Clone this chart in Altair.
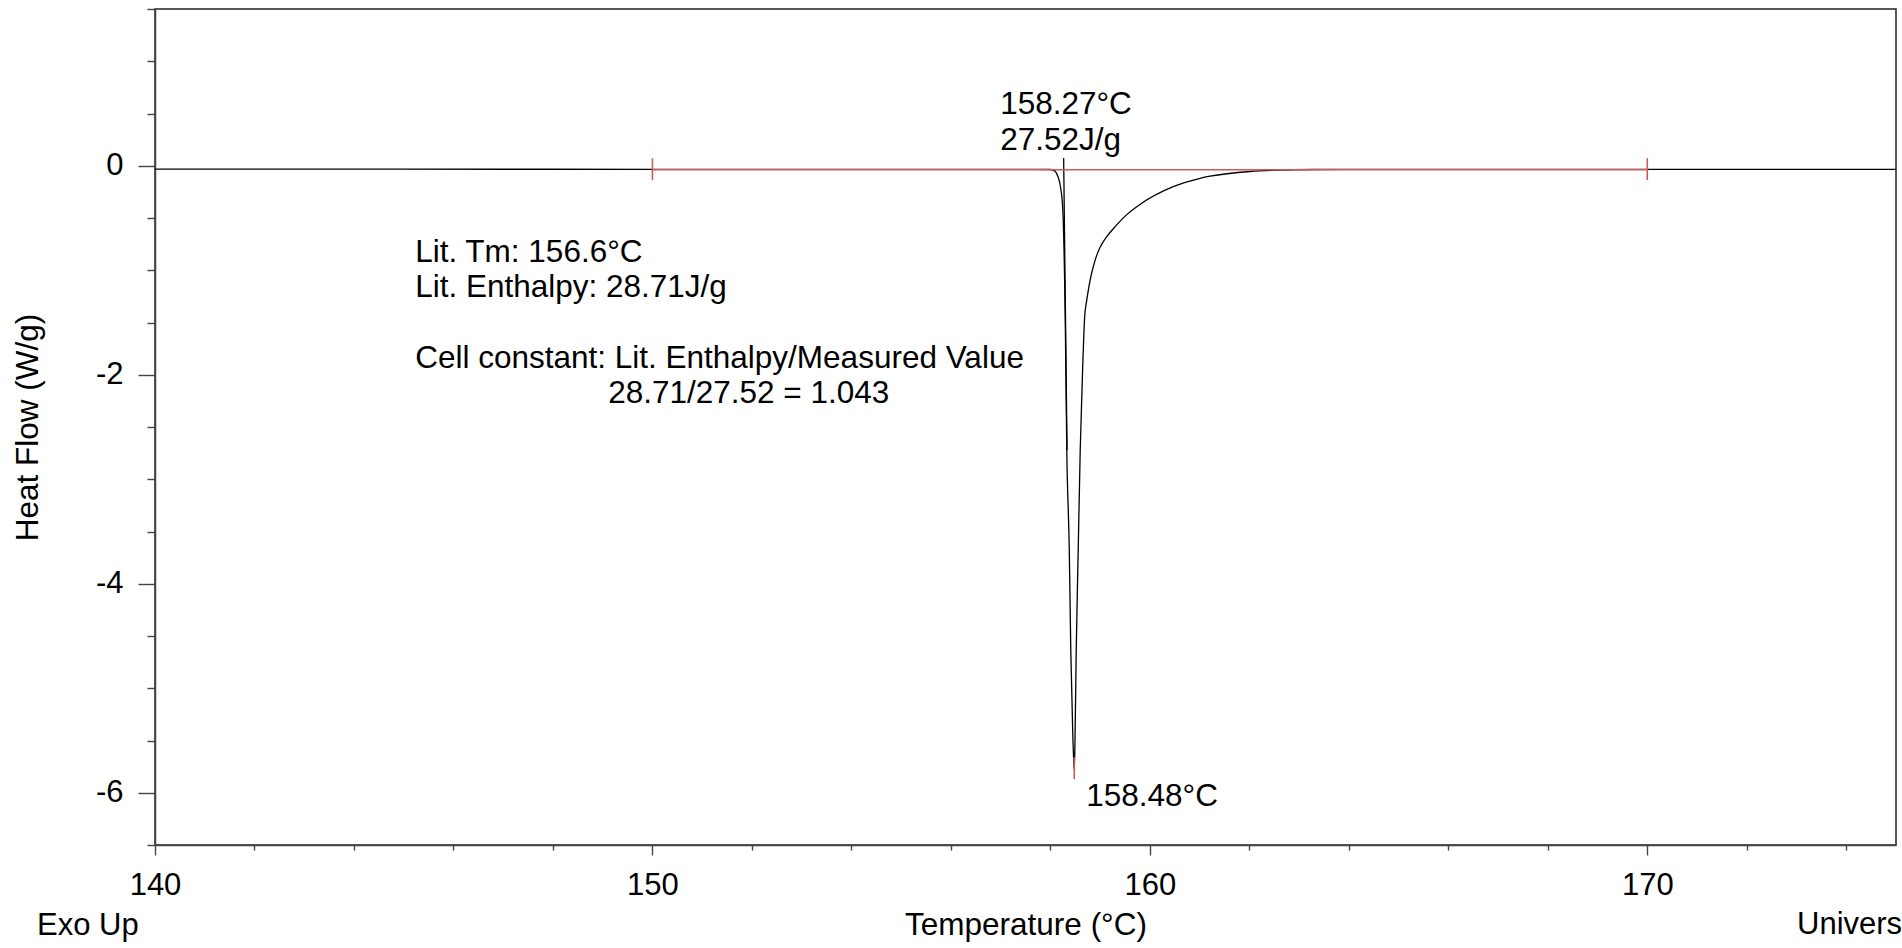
import altair as alt
import pandas as pd

# DSC heating scan of an indium calibration standard
temperature = [140.0, 145.0, 150.0, 155.0, 157.5, 157.99, 158.07, 158.15, 158.21, 158.25,
               158.30, 158.33, 158.38, 158.41, 158.45, 158.47, 158.48, 158.495, 158.52, 158.56,
               158.60, 158.65, 158.69, 158.73, 158.77, 158.81, 158.86, 158.93, 159.00, 159.13,
               159.27, 159.53, 159.80, 160.47, 161.01, 161.21, 162.01, 162.55, 163.3, 164.0,
               166.0, 170.0, 175.0]
heat_flow = [-0.033, -0.033, -0.034, -0.034, -0.035, -0.036, -0.045, -0.10, -0.22, -0.42,
             -1.50, -2.72, -3.67, -4.63, -5.43, -5.70, -5.78, -5.50, -4.63, -3.67,
             -2.72, -1.92, -1.44, -1.29, -1.17, -1.07, -0.97, -0.86, -0.78, -0.68,
             -0.60, -0.47, -0.37, -0.20, -0.12, -0.10, -0.055, -0.042, -0.036, -0.035,
             -0.035, -0.035, -0.035]

# integration limits and baseline
limit_temps = [150.0, 170.0]
baseline_level = -0.038

# onset tangent (through 158.27 °C on the baseline) and peak marker
onset_temp = 158.27
onset_line_temps = [158.267, 158.335]
onset_line_flows = [0.074, -2.72]
peak_temp = 158.48
peak_marker_flows = [-5.66, -5.87]

annotation_text = ["158.27°C", "27.52J/g", "Lit. Tm: 156.6°C", "Lit. Enthalpy: 28.71J/g",
                   "Cell constant: Lit. Enthalpy/Measured Value", "28.71/27.52 = 1.043", "158.48°C"]
annotation_temp = [156.99, 156.99, 145.23, 145.23, 145.23, 149.11, 158.72]
annotation_flow = [0.495, 0.151, -0.918, -1.253, -1.935, -2.273, -6.127]

FONT = "Liberation Sans"
RED = "#d05a5a"
TEXT_SIZE = 31.5

x_scale = alt.Scale(domain=[140, 175], nice=False, zero=False)
y_scale = alt.Scale(domain=[-6.5, 1.5], nice=False, zero=False)

x_axis = alt.Axis(
    title="Temperature (°C)",
    values=list(range(140, 175, 2)),
    labelExpr="datum.value % 10 === 0 ? '' + datum.value : ''",
    tickSize={"condition": {"test": "datum.value % 10 === 0", "value": 10}, "value": 5},
    labelPadding=15,
    titlePadding=9,
    labelFlush=False,
    labelOverlap=False,
    grid=False,
)
y_axis = alt.Axis(
    title="Heat Flow (W/g)",
    values=[v / 2 for v in range(-13, 4)],
    labelExpr="datum.value % 2 === 0 ? '' + datum.value : ''",
    tickSize={"condition": {"test": "datum.value % 2 === 0", "value": 17}, "value": 8},
    labelPadding=15,
    titlePadding=51,
    labelFlush=False,
    labelOverlap=False,
    grid=False,
)

curve_df = pd.DataFrame({"temperature": temperature, "heat_flow": heat_flow})

curve = alt.Chart(curve_df).mark_line(
    color="black", strokeWidth=1.3, interpolate="monotone"
).encode(
    x=alt.X("temperature:Q", scale=x_scale, axis=x_axis),
    y=alt.Y("heat_flow:Q", scale=y_scale, axis=y_axis),
)

onset_df = pd.DataFrame({"temperature": onset_line_temps, "heat_flow": onset_line_flows})
onset = alt.Chart(onset_df).mark_line(color="black", strokeWidth=1.3).encode(
    x=alt.X("temperature:Q", scale=x_scale),
    y=alt.Y("heat_flow:Q", scale=y_scale),
)

base_df = pd.DataFrame({"temperature": limit_temps, "heat_flow": [baseline_level] * 2})
baseline = alt.Chart(base_df).mark_line(color=RED, strokeWidth=1.6).encode(
    x=alt.X("temperature:Q", scale=x_scale),
    y=alt.Y("heat_flow:Q", scale=y_scale),
)

tick_df = pd.DataFrame({
    "temperature": limit_temps + [peak_temp],
    "heat_flow": [baseline_level + 0.11, baseline_level + 0.11, peak_marker_flows[0]],
    "heat_flow2": [baseline_level - 0.10, baseline_level - 0.10, peak_marker_flows[1]],
})
ticks = alt.Chart(tick_df).mark_rule(color=RED, strokeWidth=1.6).encode(
    x=alt.X("temperature:Q", scale=x_scale),
    y=alt.Y("heat_flow:Q", scale=y_scale),
    y2="heat_flow2:Q",
)

ann_df = pd.DataFrame({"label": annotation_text, "temperature": annotation_temp,
                       "heat_flow": annotation_flow})
annotations = alt.Chart(ann_df).mark_text(
    align="left", baseline="alphabetic", font=FONT, fontSize=TEXT_SIZE, color="black"
).encode(
    x=alt.X("temperature:Q", scale=x_scale),
    y=alt.Y("heat_flow:Q", scale=y_scale),
    text="label:N",
)

exo = alt.Chart(pd.DataFrame({"label": ["Exo Up"]})).mark_text(
    align="left", baseline="alphabetic", font=FONT, fontSize=31, color="black"
).encode(x=alt.value(-118), y=alt.value(926), text="label:N")

# instrument footer, cut at the right edge of the page
footer = alt.Chart(pd.DataFrame({"label": ["Universal V4.5A TA Instruments"]})).mark_text(
    align="left", baseline="alphabetic", font=FONT, fontSize=31, color="black",
    limit=110, ellipsis="\u200b"
).encode(x=alt.value(1642), y=alt.value(925), text="label:N")

chart = alt.layer(curve, onset, baseline, ticks, annotations, exo, footer).properties(
    width=1741,
    height=836,
    padding={"left": 155, "top": 9, "right": 6, "bottom": 103},
    autosize=alt.AutoSizeParams(type="none"),
    background="white",
).configure_view(
    stroke="#222", strokeWidth=1.5
).configure_axis(
    domainColor="#444",
    domainWidth=1.5,
    tickColor="#444",
    tickWidth=1.4,
    labelColor="black",
    labelFont=FONT,
    labelFontSize=31,
    titleFont=FONT,
    titleFontSize=31.5,
    titleFontWeight="normal",
    titleColor="black",
)

chart.save("out.html", embed_options={"renderer": "svg", "actions": False})
